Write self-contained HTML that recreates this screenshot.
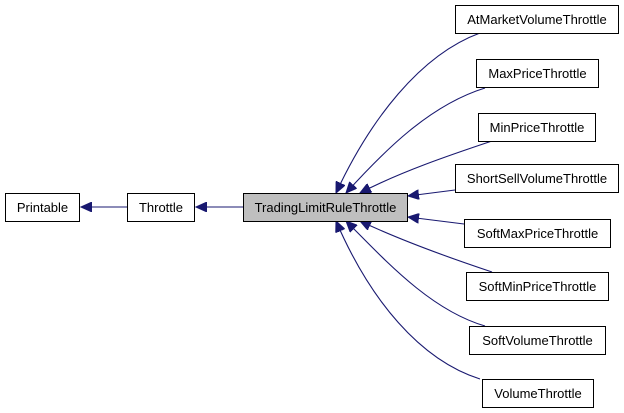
<!DOCTYPE html>
<html><head><style>body{margin:0;background:#fff}svg{display:block}</style></head>
<body>
<svg width="624" height="413" xmlns="http://www.w3.org/2000/svg" font-family="Liberation Sans, sans-serif" font-size="13">
<defs><marker id="a" markerWidth="12" markerHeight="10" refX="11" refY="5" orient="auto" markerUnits="userSpaceOnUse"><path d="M0,0 L11,5 L0,10 Z" fill="#191970" stroke="#191970"/></marker></defs>
<g fill="none" stroke="#191970" stroke-width="1.1">
<path d="M127,207 H81" marker-end="url(#a)"/>
<path d="M243,207 H196" marker-end="url(#a)"/>
<path d="M480,33 C420,55 370,120 336,193" marker-end="url(#a)"/>
<path d="M485,88 C430,105 385,150 346,193" marker-end="url(#a)"/>
<path d="M492,141 C450,155 400,172 360,193" marker-end="url(#a)"/>
<path d="M455,190 L408,196" marker-end="url(#a)"/>
<path d="M464,224 L408,217" marker-end="url(#a)"/>
<path d="M492,272 C450,258 400,240 360,221" marker-end="url(#a)"/>
<path d="M485,326 C430,310 385,260 346,221" marker-end="url(#a)"/>
<path d="M480,379 C420,360 370,300 336,221" marker-end="url(#a)"/>
</g>
<g stroke="#000" stroke-width="1">
<rect x="5.5" y="193.5" width="74" height="28" fill="#fff"/>
<rect x="127.5" y="193.5" width="67" height="28" fill="#fff"/>
<rect x="243.5" y="193.5" width="164" height="28" fill="#bfbfbf"/>
<rect x="455.5" y="5.5" width="163" height="28" fill="#fff"/>
<rect x="476.5" y="59.5" width="122" height="28" fill="#fff"/>
<rect x="478.5" y="113.5" width="117" height="28" fill="#fff"/>
<rect x="455.5" y="164.5" width="163" height="28" fill="#fff"/>
<rect x="464.5" y="219.5" width="146" height="28" fill="#fff"/>
<rect x="466.5" y="272.5" width="142" height="28" fill="#fff"/>
<rect x="469.5" y="326.5" width="136" height="28" fill="#fff"/>
<rect x="482.5" y="379.5" width="111" height="28" fill="#fff"/>
</g>
<g text-anchor="middle" fill="#000">
<text x="42.5" y="212">Printable</text>
<text x="161" y="212">Throttle</text>
<text x="325.5" y="212">TradingLimitRuleThrottle</text>
<text x="537" y="24">AtMarketVolumeThrottle</text>
<text x="537.5" y="78">MaxPriceThrottle</text>
<text x="537" y="132">MinPriceThrottle</text>
<text x="537" y="183">ShortSellVolumeThrottle</text>
<text x="537.5" y="238">SoftMaxPriceThrottle</text>
<text x="537.5" y="291">SoftMinPriceThrottle</text>
<text x="537.5" y="345">SoftVolumeThrottle</text>
<text x="538" y="398">VolumeThrottle</text>
</g>
</svg>
</body></html>
